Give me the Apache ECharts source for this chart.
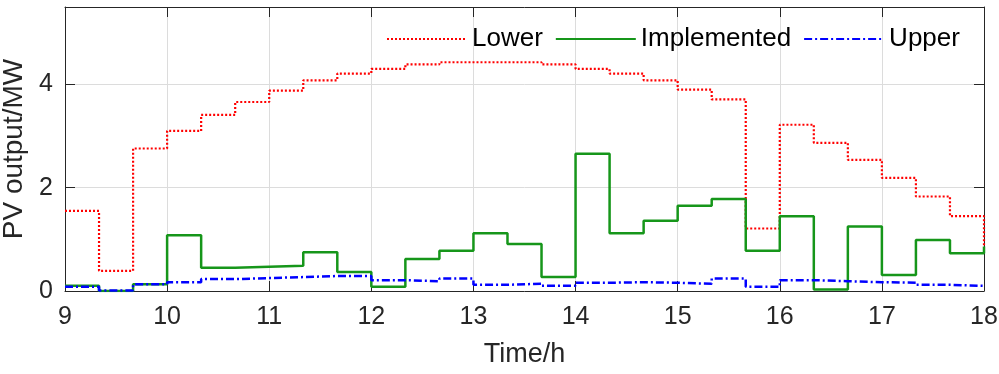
<!DOCTYPE html>
<html>
<head>
<meta charset="utf-8">
<title>PV output</title>
<script src="https://cdn.jsdelivr.net/npm/echarts@6/dist/echarts.min.js"></script>
<style>
  html, body { margin: 0; padding: 0; background: #fff; }
  #chart { width: 999px; height: 374px; }
</style>
</head>
<body>
<div id="chart"></div>
<script>
// 时间点 (20 min 一段)
var times = [9, 9.3333, 9.6667, 10, 10.3333, 10.6667, 11, 11.3333, 11.6667, 12,
  12.3333, 12.6667, 13, 13.3333, 13.6667, 14, 14.3333, 14.6667, 15, 15.3333,
  15.6667, 16, 16.3333, 16.6667, 17, 17.3333, 17.6667, 18];
var lower = [1.55, 0.39, 2.76, 3.10, 3.41, 3.66, 3.88, 4.08, 4.21, 4.30,
  4.39, 4.43, 4.43, 4.43, 4.39, 4.30, 4.21, 4.08, 3.90, 3.71,
  1.21, 3.22, 2.87, 2.54, 2.19, 1.83, 1.45, 0.86];
var implemented = [0.10, 0.00, 0.13, 1.08, 0.45, 0.47, 0.49, 0.75, 0.37, 0.08,
  0.62, 0.78, 1.12, 0.91, 0.27, 2.66, 1.12, 1.36, 1.65, 1.78,
  0.78, 1.45, 0.03, 1.25, 0.31, 0.99, 0.73, 0.86];
var upper = [0.08, 0.01, 0.13, 0.17, 0.23, 0.25, 0.27, 0.29, 0.29, 0.21,
  0.19, 0.24, 0.12, 0.14, 0.10, 0.16, 0.17, 0.16, 0.14, 0.24,
  0.08, 0.21, 0.19, 0.17, 0.16, 0.12, 0.10, 0.08];
var seriesNames = ['Lower', 'Implemented', 'Upper'];

var font = '"Liberation Sans", Arial, Helvetica, sans-serif';
var ink = '#262626';

function pairs(ys) {
  return times.map(function (t, i) { return [t, ys[i]]; });
}

var myChart = echarts.init(document.getElementById('chart'));
var option = {
  animation: false,
  textStyle: { fontFamily: font },
  grid: { left: 65, right: 15, top: 7, bottom: 83, containLabel: false, outerBoundsMode: 'none' },
  legend: {
    left: 381,
    top: 21,
    itemWidth: 80,
    itemHeight: 14,
    itemGap: 12,
    itemStyle: { opacity: 0 },
    textStyle: { fontSize: 26, color: '#000', fontFamily: font },
    data: seriesNames
  },
  xAxis: [
    {
      type: 'value', min: 9, max: 18, interval: 1,
      name: 'Time/h', nameLocation: 'middle', nameGap: 50,
      nameTextStyle: { fontSize: 27, color: ink, fontFamily: font },
      axisLine: { onZero: false, lineStyle: { color: ink, width: 1 } },
      axisTick: { inside: true, length: 10, lineStyle: { color: ink } },
      axisLabel: { fontSize: 25, color: ink, margin: 14, fontFamily: font },
      splitLine: { show: true, lineStyle: { color: '#dcdcdc', width: 1 } }
    },
    {
      type: 'value', min: 9, max: 18, interval: 1, position: 'top',
      axisLine: { onZero: false, lineStyle: { color: ink, width: 1 } },
      axisTick: { inside: true, length: 10, lineStyle: { color: ink } },
      axisLabel: { show: false },
      splitLine: { show: false }
    }
  ],
  yAxis: [
    {
      type: 'value', min: 0, max: 5.5, interval: 2,
      name: 'PV output/MW', nameLocation: 'middle', nameGap: 36,
      nameTextStyle: { fontSize: 28, color: ink, fontFamily: font },
      axisLine: { show: true, onZero: false, lineStyle: { color: ink, width: 1 } },
      axisTick: { show: true, inside: true, length: 10, lineStyle: { color: ink } },
      axisLabel: { fontSize: 25, color: ink, margin: 12, showMaxLabel: false, fontFamily: font },
      splitLine: { show: true, lineStyle: { color: '#dcdcdc', width: 1 } }
    },
    {
      type: 'value', min: 0, max: 5.5, interval: 2, position: 'right',
      axisLine: { show: true, onZero: false, lineStyle: { color: ink, width: 1 } },
      axisTick: { show: true, inside: true, length: 10, lineStyle: { color: ink } },
      axisLabel: { show: false },
      splitLine: { show: false }
    }
  ],
  series: [
    {
      name: seriesNames[0], type: 'line', step: 'end', symbol: 'none',
      data: pairs(lower),
      itemStyle: { color: '#ff0000' },
      lineStyle: { color: '#ff0000', width: 2.2, type: [2, 2] }
    },
    {
      name: seriesNames[1], type: 'line', step: 'end', symbol: 'none',
      data: pairs(implemented),
      itemStyle: { color: '#16961a' },
      lineStyle: { color: '#16961a', width: 2.5, type: 'solid' }
    },
    {
      name: seriesNames[2], type: 'line', step: 'end', symbol: 'none',
      data: pairs(upper),
      itemStyle: { color: '#0000ff' },
      lineStyle: { color: '#0000ff', width: 2.5, type: [8, 3, 2, 3] }
    }
  ]
};
option && myChart.setOption(option);
</script>
</body>
</html>
